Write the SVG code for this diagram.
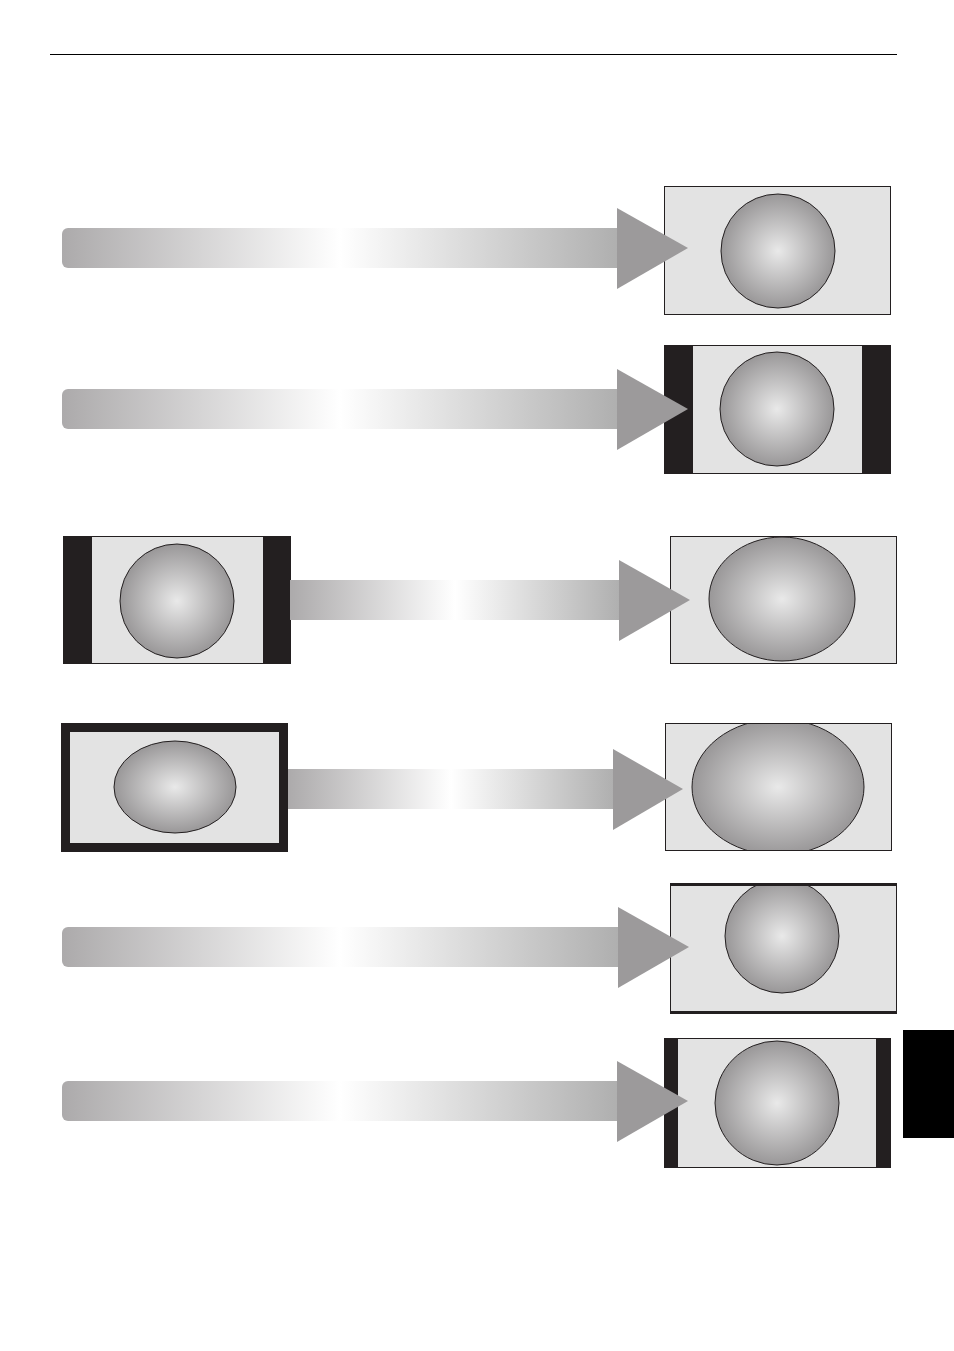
<svg xmlns="http://www.w3.org/2000/svg" width="954" height="1351" viewBox="0 0 954 1351">
<defs>
<linearGradient id="bar" x1="0" y1="0" x2="1" y2="0">
<stop offset="0" stop-color="#acaaab"/>
<stop offset="0.5" stop-color="#ffffff"/>
<stop offset="1" stop-color="#afafaf"/>
</linearGradient>
<radialGradient id="ball" cx="0.5" cy="0.5" r="0.5">
<stop offset="0" stop-color="#e9e9e9"/>
<stop offset="1" stop-color="#999798"/>
</radialGradient>
<clipPath id="c4"><rect x="665" y="723" width="226" height="127"/></clipPath>
<clipPath id="c5"><rect x="670" y="884" width="226" height="129"/></clipPath>
</defs>
<style>
.scr{fill:#e3e3e3;stroke:#231f20;stroke-width:1}
.blk{fill:#231f20}
.ball{fill:url(#ball);stroke:#231f20;stroke-width:1}
.bar{fill:url(#bar)}
.head{fill:#9c9a9b}
</style>
<line x1="50" y1="54.5" x2="897" y2="54.5" stroke="#000" stroke-width="1"/>
<rect x="903" y="1030" width="51" height="108" fill="#000"/>

<g id="screen1">
<rect class="scr" x="664.5" y="186.5" width="226" height="128"/>
<circle class="ball" cx="778" cy="251" r="57"/>
</g>
<g id="screen2">
<rect class="scr" x="664.5" y="345.5" width="226" height="128"/>
<rect class="blk" x="664" y="345" width="29" height="129"/>
<rect class="blk" x="862" y="345" width="29" height="129"/>
<circle class="ball" cx="777" cy="409" r="57"/>
</g>
<g id="screen3-src">
<rect class="scr" x="63.5" y="536.5" width="227" height="127"/>
<rect class="blk" x="63" y="536" width="29" height="128"/>
<rect class="blk" x="263" y="536" width="28" height="128"/>
<circle class="ball" cx="177" cy="601" r="57"/>
</g>
<g id="screen3">
<rect class="scr" x="670.5" y="536.5" width="226" height="127"/>
<ellipse class="ball" cx="782" cy="599" rx="73" ry="62"/>
</g>
<g id="screen4-src">
<rect class="blk" x="61" y="723" width="227" height="129"/>
<rect x="70" y="732" width="209" height="111" fill="#e3e3e3"/>
<ellipse class="ball" cx="175" cy="787" rx="61" ry="46"/>
</g>
<g id="screen4">
<rect class="scr" x="665.5" y="723.5" width="226" height="127"/>
<ellipse class="ball" cx="778" cy="787" rx="86" ry="68" clip-path="url(#c4)"/>
<rect x="665.5" y="723.5" width="226" height="127" fill="none" stroke="#231f20"/>
</g>
<g id="screen5">
<rect class="scr" x="670.5" y="884.5" width="226" height="129"/>
<circle class="ball" cx="782" cy="936" r="57" clip-path="url(#c5)"/>
<rect x="670" y="883" width="227" height="3" class="blk"/>
<rect x="670" y="1011" width="227" height="2" class="blk"/>
</g>
<g id="screen6">
<rect class="scr" x="664.5" y="1038.5" width="226" height="129"/>
<rect class="blk" x="664" y="1038" width="14" height="130"/>
<rect class="blk" x="876" y="1038" width="15" height="130"/>
<circle class="ball" cx="777" cy="1103" r="62"/>
</g>

<g id="connectors">
<path class="bar" d="M68 228H618V268H68A6 6 0 0 1 62 262V234A6 6 0 0 1 68 228Z"/>
<polygon class="head" points="617,208 617,289 688,248"/>
<path class="bar" d="M68 389H618V429H68A6 6 0 0 1 62 423V395A6 6 0 0 1 68 389Z"/>
<polygon class="head" points="617,369 617,450 688,409"/>
<rect class="bar" x="290" y="580" width="330" height="40"/>
<polygon class="head" points="619,560 619,641 690,600"/>
<rect class="bar" x="288" y="769" width="326" height="40"/>
<polygon class="head" points="613,749 613,830 683,789"/>
<path class="bar" d="M68 927H618V967H68A6 6 0 0 1 62 961V933A6 6 0 0 1 68 927Z"/>
<polygon class="head" points="618,907 618,988 689,947"/>
<path class="bar" d="M68 1081H618V1121H68A6 6 0 0 1 62 1115V1087A6 6 0 0 1 68 1081Z"/>
<polygon class="head" points="617,1061 617,1142 688,1101"/>
</g>
</svg>
